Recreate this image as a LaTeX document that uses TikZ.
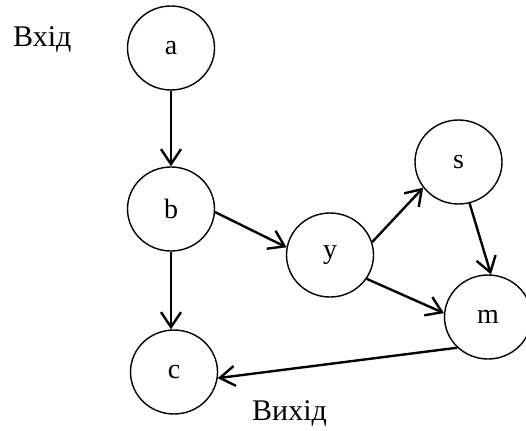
\documentclass[tikz,border=0pt]{standalone}
\usepackage{fontspec}
\setmainfont{Liberation Serif}
\usetikzlibrary{arrows.meta,shapes.geometric}
\begin{document}
\begin{tikzpicture}[x=1pt,y=-1pt,
  vertex/.style={ellipse,draw,line width=1.4pt,minimum width=87pt,minimum height=84pt,
    inner sep=0pt,font=\fontsize{28}{32}\selectfont},
  edge/.style={line width=2.4pt,-{Straight Barb[length=15pt,width=20pt,line width=2.4pt]}},
  caption/.style={anchor=base west,inner sep=0pt,font=\fontsize{30}{36}\selectfont}]
  \useasboundingbox (0,0) rectangle (526,430);
  % vertices
  \node[vertex] (a) at (171,48) {a};
  \node[vertex] (b) at (171,209) {b};
  \node[vertex] (c) at (174,372) {c};
  \node[vertex] (y) at (330,255) {y};
  \node[vertex] (s) at (458.5,162) {s};
  \node[vertex] (m) at (488,317) {m};
  % captions
  \node[caption] (in) at (13,47) {Вхід};
  \node[caption] (out) at (252,420) {Вихід};
  % edges
  \draw[edge] (a.south) -- (b.north);
  \draw[edge] (b.south) -- (b.south |- c.north);
  \draw[edge] (b.-4) -- (y.170);
  \draw[edge] (y.17) -- (s.216);
  \draw[edge] (s.-75) -- (m.86);
  \draw[edge] (y.-33) -- (m.175);
  \draw[edge] (m.-135) -- (c.-8);
\end{tikzpicture}
\end{document}
